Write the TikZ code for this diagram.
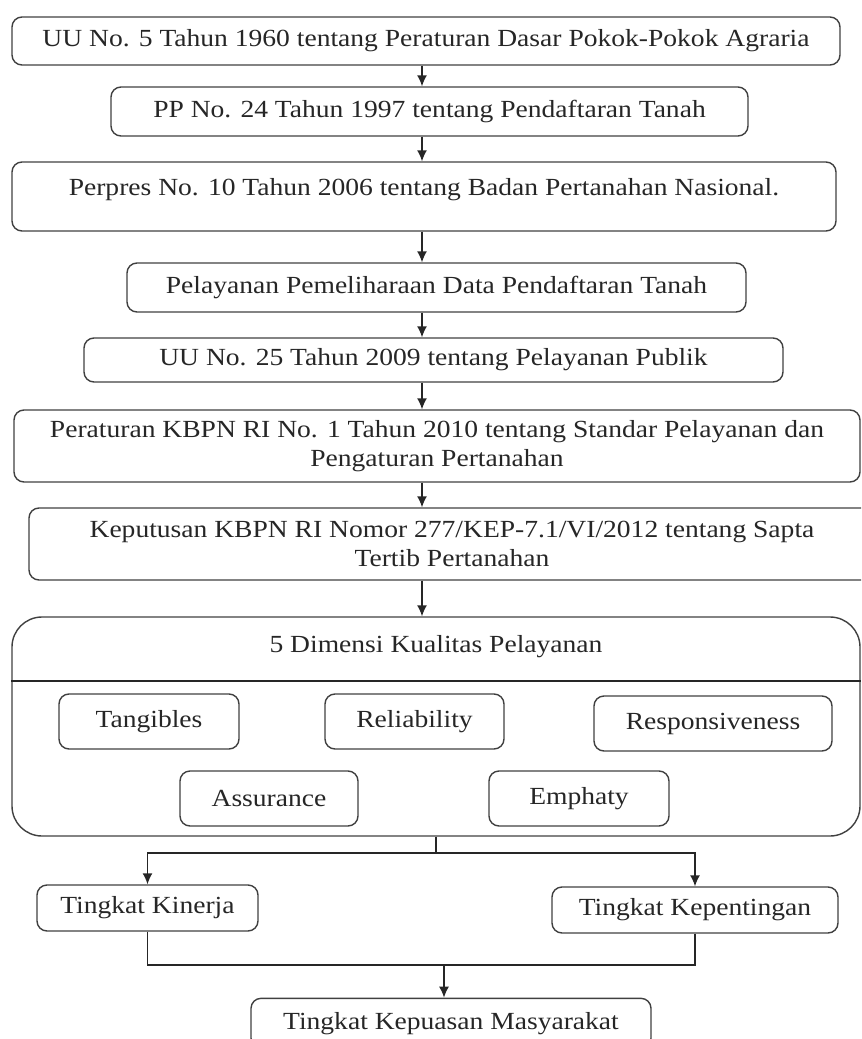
\documentclass[tikz,border=0pt]{standalone}
\usepackage{fontspec}
\setmainfont{Liberation Serif}[FakeStretch=1.12]
\usepackage{tikz}
\usetikzlibrary{arrows.meta}
\usetikzlibrary{positioning}
\usetikzlibrary{calc}

\newcommand{\boxfont}{\fontsize{21pt}{24.7pt}\selectfont}

\begin{document}
\begin{tikzpicture}[
			basicnode/.style={rectangle, rounded corners=0.3cm, draw=black!75, line width=1.2pt, minimum height=1.47cm, inner sep=0pt, align=center, font=\boxfont, text=black!85},
			bignode/.style={rectangle, rounded corners=0.9cm, draw=black!75, line width=1.2pt, inner sep=0pt},
			titlenode/.style={align=center, font=\boxfont, text=black!85},
			dimnode/.style={rectangle, rounded corners=0.3cm, draw=black!75, line width=1.2pt, minimum height=1.65cm, inner sep=0pt, font=\boxfont, text=black!85},
			arrowline/.style={-{Latex[length=0.33cm,width=0.3cm]}, line width=1.2pt, draw=black!85},
			plainline/.style={line width=1.2pt, draw=black!85},
			]
			\path[use as bounding box, clip] (0,0) rectangle (25.83,-31.17);
			%Nodes
			\node[basicnode, minimum width=24.84cm, minimum height=1.44cm] (UUPA) at (12.78,-1.23) {UU No. 5 Tahun 1960 tentang Peraturan Dasar Pokok-Pokok Agraria};
			\node[basicnode, minimum width=19.11cm] (PPTanah) at (12.885,-3.345) {PP No. 24 Tahun 1997 tentang Pendaftaran Tanah};
			\node[basicnode, minimum width=24.72cm, minimum height=2.07cm, text depth=0.55cm] (Perpres) at (12.72,-5.895) {Perpres No. 10 Tahun 2006 tentang Badan Pertanahan Nasional.};
			\node[basicnode, minimum width=18.57cm] (Pemeliharaan) at (13.095,-8.625) {Pelayanan Pemeliharaan Data Pendaftaran Tanah};
			\node[basicnode, minimum width=20.97cm, minimum height=1.32cm] (UUPublik) at (13.005,-10.8) {UU No. 25 Tahun 2009 tentang Pelayanan Publik};
			\node[basicnode, minimum width=25.38cm, minimum height=2.16cm] (KBPN) at (13.11,-13.38) {Peraturan KBPN RI No. 1 Tahun 2010 tentang Standar Pelayanan dan\\ Pengaturan Pertanahan};
			\node[basicnode, minimum width=25.38cm, minimum height=2.16cm] (Sapta) at (13.56,-16.32) {Keputusan KBPN RI Nomor 277/KEP-7.1/VI/2012 tentang Sapta\\ Tertib Pertanahan};
			
			\node[bignode, minimum width=25.44cm, minimum height=6.57cm] (Dimensi) at (13.08,-21.795) {};
			\node[titlenode] (DimensiTitle) at (13.08,-19.41) {5 Dimensi Kualitas Pelayanan};
			\coordinate (divider) at (0,-20.43);
			
			\node[dimnode, minimum width=5.4cm] (Tangibles) at (4.47,-21.645) {Tangibles};
			\node[dimnode, minimum width=5.37cm] (Reliability) at (12.435,-21.645) {Reliability};
			\node[dimnode, minimum width=7.14cm] (Responsiveness) at (21.39,-21.705) {Responsiveness};
			\node[dimnode, minimum width=5.34cm] (Assurance) at (8.07,-23.955) {Assurance};
			\node[dimnode, minimum width=5.4cm] (Emphaty) at (17.37,-23.955) {Emphaty};
			
			\node[basicnode, minimum width=6.63cm, minimum height=1.38cm] (Kinerja) at (4.425,-27.24) {Tingkat Kinerja};
			\node[basicnode, minimum width=8.58cm, minimum height=1.38cm] (Kepentingan) at (20.85,-27.3) {Tingkat Kepentingan};
			\node[basicnode, minimum width=12cm, minimum height=1.5cm] (Kepuasan) at (13.53,-30.7) {Tingkat Kepuasan Masyarakat};
			
			\coordinate (spine) at (12.66,0);
			\coordinate (split) at (13.08,-25.59);
			\coordinate (merge) at (13.32,-28.95);
			
			%Lines
			\draw[plainline] (Dimensi.west |- divider) -- (Dimensi.east |- divider);
			
			\draw[arrowline] (UUPA.south -| spine) -- (PPTanah.north -| spine);
			\draw[arrowline] (PPTanah.south -| spine) -- (Perpres.north -| spine);
			\draw[arrowline] (Perpres.south -| spine) -- (Pemeliharaan.north -| spine);
			\draw[arrowline] (Pemeliharaan.south -| spine) -- (UUPublik.north -| spine);
			\draw[arrowline] (UUPublik.south -| spine) -- (KBPN.north -| spine);
			\draw[arrowline] (KBPN.south -| spine) -- (Sapta.north -| spine);
			\draw[arrowline] (Sapta.south -| spine) -- (Dimensi.north -| spine);
			
			\draw[plainline] (Dimensi.south) -- (split);
			\draw[arrowline] (split) -| (Kinerja.north);
			\draw[arrowline] (split) -| (Kepentingan.north);
			
			\draw[plainline] (Kinerja.south) |- (merge);
			\draw[plainline] (Kepentingan.south) |- (merge);
			\draw[arrowline] (merge) -- (Kepuasan.north -| merge);
		\end{tikzpicture}
\end{document}
